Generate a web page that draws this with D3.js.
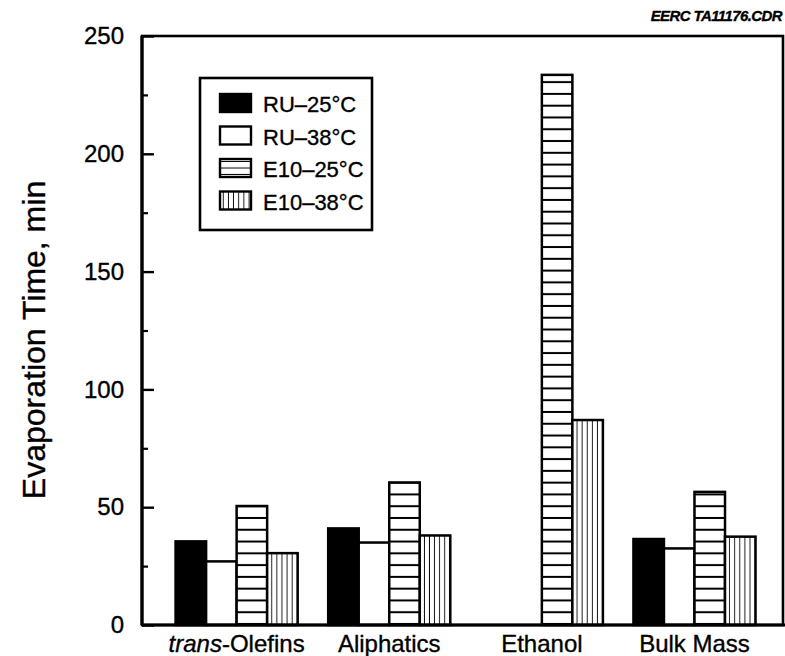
<!DOCTYPE html>
<html>
<head>
<meta charset="utf-8">
<script src="https://cdn.jsdelivr.net/npm/d3@7"></script>
<style>
  body { margin: 0; background: #fff; }
  text { font-family: 'Liberation Sans', Arial, sans-serif; fill: #000; stroke: #000; stroke-width: 0.35px; }
</style>
</head>
<body>
<div id="chart"></div>
<script>
// chart size
var w = 785;
var h = 656;
var margin = { top: 36, right: 2, bottom: 31, left: 142 };

// data (minutes)
var categories = ['trans-Olefins', 'Aliphatics', 'Ethanol', 'Bulk Mass'];
var seriesNames = ['RU\u201325\u00b0C', 'RU\u201338\u00b0C', 'E10\u201325\u00b0C', 'E10\u201338\u00b0C'];
var ru25 = [35.5, 41, null, 36.5];
var ru38 = [27, 35, null, 32.5];
var e10at25 = [50.5, 60.5, 233.5, 56.5];
var e10at38 = [30.5, 38, 87, 37.5];
var yTicks = [0, 50, 100, 150, 200, 250];
var yMinorTicks = [25, 75, 125, 175, 225];

var seriesValues = [ru25, ru38, e10at25, e10at38];
var fills = ['solid', 'white', 'hstripe', 'vstripe'];

var svg = d3.select('#chart')
  .append('svg')
  .attr('width', w)
  .attr('height', h);

var defs = svg.append('defs');

// scales
var xScale = d3.scaleBand()
  .domain(categories)
  .range([margin.left, w - margin.right])
  .paddingInner(0.2)
  .paddingOuter(0.2)
  .align(0.55);

var xInner = d3.scaleBand()
  .domain(seriesNames)
  .range([0, xScale.bandwidth()]);

var yScale = d3.scaleLinear()
  .domain([0, 250])
  .range([h - margin.bottom, margin.top]);

// horizontal hatch: one line every 5 min, lined up with zero
var hStep = yScale(0) - yScale(5);
var hPat = defs.append('pattern')
  .attr('id', 'hstripe')
  .attr('patternUnits', 'userSpaceOnUse')
  .attr('x', 0)
  .attr('y', yScale(0))
  .attr('width', 10)
  .attr('height', hStep);
hPat.append('rect').attr('width', 10).attr('height', hStep).attr('fill', '#fff');
hPat.append('rect').attr('y', hStep - 2).attr('width', 10).attr('height', 2.2).attr('fill', '#000');

// vertical stripes are lined up with each bar's left edge
var vStripe = function (id, x, width) {
  var step = width / 6;
  var p = defs.append('pattern')
    .attr('id', id)
    .attr('patternUnits', 'userSpaceOnUse')
    .attr('x', x)
    .attr('y', 0)
    .attr('width', step)
    .attr('height', 10);
  p.append('rect').attr('width', step).attr('height', 10).attr('fill', '#fff');
  p.append('rect').attr('x', step - 0.9).attr('width', 1.8).attr('height', 10).attr('fill', '#000');
  return 'url(#' + id + ')';
};

var fillFor = function (kind, id, x, width) {
  if (kind === 'solid') return '#000';
  if (kind === 'white') return '#fff';
  if (kind === 'hstripe') return 'url(#hstripe)';
  return vStripe(id, x, width);
};

// bars
var bars = [];
seriesNames.forEach(function (s, si) {
  categories.forEach(function (c, ci) {
    var v = seriesValues[si][ci];
    if (v === null) return;
    bars.push({ series: s, si: si, cat: c, ci: ci, value: v });
  });
});

svg.append('g')
  .attr('class', 'bars')
  .selectAll('rect')
  .data(bars)
  .enter()
  .append('rect')
  .attr('x', d => xScale(d.cat) + xInner(d.series))
  .attr('y', d => yScale(d.value))
  .attr('width', xInner.bandwidth())
  .attr('height', d => yScale(0) - yScale(d.value))
  .attr('fill', d => fillFor(fills[d.si], 'vs-' + d.ci, xScale(d.cat) + xInner(d.series), xInner.bandwidth()))
  .attr('stroke', '#000')
  .attr('stroke-width', 2.5);

// frame
svg.append('rect')
  .attr('x', margin.left)
  .attr('y', margin.top)
  .attr('width', w - margin.right - margin.left)
  .attr('height', yScale(0) - margin.top)
  .attr('fill', 'none')
  .attr('stroke', '#000')
  .attr('stroke-width', 2.6);

svg.append('line')
  .attr('x1', margin.left)
  .attr('x2', w)
  .attr('y1', yScale(0))
  .attr('y2', yScale(0))
  .attr('stroke', '#000')
  .attr('stroke-width', 3.2);

svg.append('line')
  .attr('x1', margin.left)
  .attr('x2', margin.left)
  .attr('y1', margin.top)
  .attr('y2', yScale(0))
  .attr('stroke', '#000')
  .attr('stroke-width', 3.2);

// y axis, ticks point inward
var yAxis = d3.axisLeft(yScale)
  .tickValues(yTicks)
  .tickSize(-12)
  .tickPadding(18);

var yAxisGroup = svg.append('g')
  .attr('transform', `translate(${margin.left}, 0)`)
  .call(yAxis);
yAxisGroup.select('.domain').remove();
yAxisGroup.selectAll('line').attr('stroke-width', 2.4);
yAxisGroup.selectAll('text')
  .attr('font-size', 24)
  .attr('font-family', "'Liberation Sans', Arial, sans-serif");

var yMinor = d3.axisLeft(yScale)
  .tickValues(yMinorTicks)
  .tickSize(-6)
  .tickFormat('');
var yMinorGroup = svg.append('g')
  .attr('transform', `translate(${margin.left}, 0)`)
  .call(yMinor);
yMinorGroup.select('.domain').remove();
yMinorGroup.selectAll('line').attr('stroke-width', 2.2);

// category labels
var catLabels = svg.append('g')
  .selectAll('text')
  .data(categories)
  .enter()
  .append('text')
  .attr('x', d => xScale(d) + xScale.bandwidth() / 2)
  .attr('y', 652)
  .attr('text-anchor', 'middle')
  .attr('font-size', 24);

catLabels.each(function (d) {
  var t = d3.select(this);
  if (d.indexOf('trans-') === 0) {
    t.append('tspan').attr('font-style', 'italic').text('trans');
    t.append('tspan').text(d.slice(5));
  } else {
    t.text(d);
  }
});

// y axis title
svg.append('text')
  .attr('transform', 'translate(45, 340) rotate(-90)')
  .attr('text-anchor', 'middle')
  .attr('font-size', 32)
  .text('Evaporation Time, min');

// file tag top right
svg.append('text')
  .attr('x', 782)
  .attr('y', 21)
  .attr('text-anchor', 'end')
  .attr('font-size', 15)
  .attr('font-weight', 'bold')
  .attr('font-style', 'italic')
  .attr('letter-spacing', -0.6)
  .text('EERC TA11176.CDR');

// legend
var legend = svg.append('g')
  .attr('transform', 'translate(200, 78)');

legend.append('rect')
  .attr('width', 172)
  .attr('height', 152)
  .attr('fill', '#fff')
  .attr('stroke', '#000')
  .attr('stroke-width', 2.6);

var legendRows = legend.selectAll('g.row')
  .data(seriesNames)
  .enter()
  .append('g')
  .attr('class', 'row')
  .attr('transform', (d, i) => `translate(0, ${16 + i * 32.5})`);

// legend horizontal swatch: two inner lines
var lp = defs.append('pattern')
  .attr('id', 'leg-h')
  .attr('patternUnits', 'userSpaceOnUse')
  .attr('x', 0)
  .attr('y', 78 + 16 + 2 * 32.5)
  .attr('width', 10)
  .attr('height', 6.5);
lp.append('rect').attr('width', 10).attr('height', 6.5).attr('fill', '#fff');
lp.append('rect').attr('y', 5.5).attr('width', 10).attr('height', 1.8).attr('fill', '#000');

legendRows.append('rect')
  .attr('x', 20)
  .attr('width', 31)
  .attr('height', 18)
  .attr('fill', (d, i) => {
    if (fills[i] === 'hstripe') return 'url(#leg-h)';
    if (fills[i] === 'vstripe') return vStripe('leg-v', 220, 31);
    return fills[i] === 'solid' ? '#000' : '#fff';
  })
  .attr('stroke', '#000')
  .attr('stroke-width', 2.4);

legendRows.append('text')
  .attr('x', 63)
  .attr('y', 18)
  .attr('font-size', 22)
  .text(d => d);
</script>
</body>
</html>
